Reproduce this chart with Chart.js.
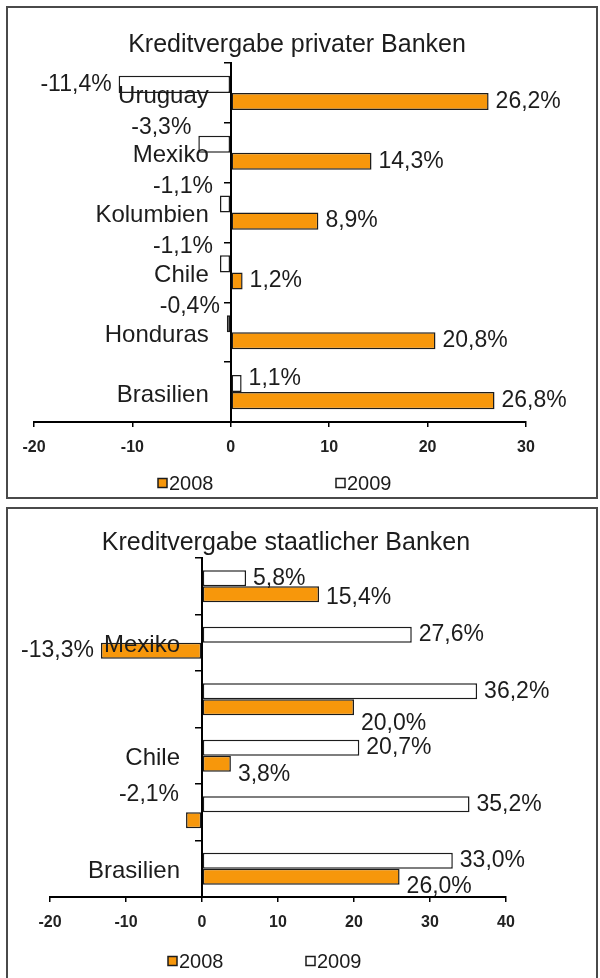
<!DOCTYPE html>
<html>
<head>
<meta charset="utf-8">
<title>Kreditvergabe</title>
<script src="https://cdn.jsdelivr.net/npm/chart.js@4.4.1/dist/chart.umd.min.js"></script>
<style>
    body { margin: 0; background: #fff; }
    .panel { position: absolute; left: 6px; width: 588px; border: 2px solid #4a4a4a; background: #fff; }
    #panel-private { top: 6px; height: 489px; }
    #panel-state { top: 507px; height: 470px; }
    canvas { display: block; }
</style>
</head>
<body>
<div class="panel" id="panel-private"><canvas id="chart-private" width="588" height="489"></canvas></div>
<div class="panel" id="panel-state"><canvas id="chart-state" width="588" height="470"></canvas></div>
<script>
/* Data */
const countries = ['Uruguay', 'Mexiko', 'Kolumbien', 'Chile', 'Honduras', 'Brasilien'];
const privat2008 = [26.2, 14.3, 8.9, 1.2, 20.8, 26.8];
const privat2009 = [-11.4, -3.3, -1.1, -1.1, -0.4, 1.1];
const staat2008 = [15.4, -13.3, 20.0, 3.8, -2.1, 26.0];
const staat2009 = [5.8, 27.6, 36.2, 20.7, 35.2, 33.0];
const privatTicks = [-20, -10, 0, 10, 20, 30];
const staatTicks = [-20, -10, 0, 10, 20, 30, 40];

const orange = '#F7970B';
const ink = '#1c1c1c';
const fontFamily = '"Liberation Sans", Arial, sans-serif';
Chart.defaults.font.family = fontFamily;
Chart.defaults.color = ink;

/* category names, value labels, title and legend drawn the Excel way */
const excelLook = {
    id: 'excelLook',
    afterDatasetsDraw(chart, args, opts) {
        const ctx = chart.ctx;
        const yScale = chart.scales.y;
        const zeroX = chart.scales.x.getPixelForValue(0);
        ctx.save();
        ctx.fillStyle = ink;
        ctx.textBaseline = 'middle';

        // country names next to the zero line (Excel skips some of them)
        ctx.font = '24px ' + fontFamily;
        ctx.textAlign = 'right';
        chart.data.labels.forEach(function(name, i) {
            if (i % opts.labelStep !== opts.labelStart) return;
            ctx.fillText(name, zeroX - 22, yScale.getPixelForValue(i) + 3);
        });

        // value labels at the bar ends
        ctx.font = '23px ' + fontFamily;
        chart.data.datasets.forEach(function(ds, i) {
            chart.getDatasetMeta(i).data.forEach(function(bar, j) {
                const v = ds.data[j];
                const shift = ds.labelShift ? ds.labelShift[j] * bar.height : 0;
                const text = v.toFixed(1).replace('.', ',') + '%';
                ctx.textAlign = v < 0 ? 'right' : 'left';
                ctx.fillText(text, bar.x + (v < 0 ? -7 : 7), bar.y + shift);
            });
        });
        ctx.restore();
    },
    afterDraw(chart, args, opts) {
        const ctx = chart.ctx;
        ctx.save();
        // title
        ctx.font = '25px ' + fontFamily;
        ctx.fillStyle = ink;
        ctx.textAlign = 'center';
        ctx.textBaseline = 'alphabetic';
        ctx.fillText(opts.title, opts.titleX, opts.titleY);
        // legend, 2008 first
        ctx.font = '20px ' + fontFamily;
        ctx.textAlign = 'left';
        ctx.textBaseline = 'middle';
        const items = chart.data.datasets.slice().reverse();
        items.forEach(function(ds, k) {
            const x = opts.legendX + k * opts.legendSpacing;
            const y = opts.legendY;
            ctx.fillStyle = ds.backgroundColor;
            ctx.fillRect(x, y - 4.5, 9, 9);
            ctx.strokeStyle = ink;
            ctx.lineWidth = 1.5;
            ctx.strokeRect(x, y - 4.5, 9, 9);
            ctx.fillStyle = ink;
            ctx.fillText(ds.label, x + 11, y + 1);
        });
        ctx.restore();
    }
};

function axisScales(ticks) {
    return {
        x: {
            type: 'linear',
            min: ticks[0],
            max: ticks[ticks.length - 1],
            ticks: {
                stepSize: 10,
                padding: 11,
                font: { size: 16, weight: 'bold' },
                color: '#222'
            },
            grid: { drawOnChartArea: false, tickLength: 5, color: '#000', lineWidth: 1.5 },
            border: { color: '#000', width: 2 },
            afterFit: function(scale) { scale.height = 36; }
        },
        y: {
            type: 'category',
            position: { x: 0 },
            ticks: { display: false },
            grid: { drawOnChartArea: false, tickLength: 6, color: '#000', lineWidth: 1.5, offset: true },
            border: { color: '#000', width: 2 }
        }
    };
}

function barSet(label, data, color, shift) {
    return {
        label: label,
        data: data,
        backgroundColor: color,
        borderColor: ink,
        borderWidth: 1.5,
        borderSkipped: false,
        categoryPercentage: 0.57,
        barPercentage: 1.0,
        labelShift: shift
    };
}

/* Kreditvergabe privater Banken */
const ctxPrivat = document.querySelector('#chart-private').getContext('2d');
const chartPrivat = new Chart(ctxPrivat, {
    type: 'bar',
    data: {
        labels: countries,
        datasets: [
            barSet('2009', privat2009, '#ffffff', [0, -1, -1, -1, -1, -0.3]),
            barSet('2008', privat2008, orange, null)
        ]
    },
    options: {
        indexAxis: 'y',
        responsive: false,
        animation: false,
        layout: { padding: { top: 55, left: 26, right: 70, bottom: 39 } },
        scales: axisScales(privatTicks),
        plugins: {
            legend: { display: false },
            tooltip: { enabled: false },
            excelLook: {
                title: 'Kreditvergabe privater Banken',
                titleX: 289, titleY: 44,
                labelStep: 1, labelStart: 0,
                legendX: 150, legendSpacing: 178, legendY: 475
            }
        }
    },
    plugins: [excelLook]
});

/* Kreditvergabe staatlicher Banken */
const ctxStaat = document.querySelector('#chart-state').getContext('2d');
const chartStaat = new Chart(ctxStaat, {
    type: 'bar',
    data: {
        labels: countries,
        datasets: [
            barSet('2009', staat2009, '#ffffff', null),
            barSet('2008', staat2008, orange, [0.2, 0, 1, 0.7, -1.6, 0.6])
        ]
    },
    options: {
        indexAxis: 'y',
        responsive: false,
        animation: false,
        layout: { padding: { top: 49, left: 42, right: 90, bottom: 46 } },
        scales: axisScales(staatTicks),
        plugins: {
            legend: { display: false },
            tooltip: { enabled: false },
            excelLook: {
                title: 'Kreditvergabe staatlicher Banken',
                titleX: 278, titleY: 41,
                labelStep: 2, labelStart: 1,
                legendX: 160, legendSpacing: 138, legendY: 452
            }
        }
    },
    plugins: [excelLook]
});
</script>
</body>
</html>
